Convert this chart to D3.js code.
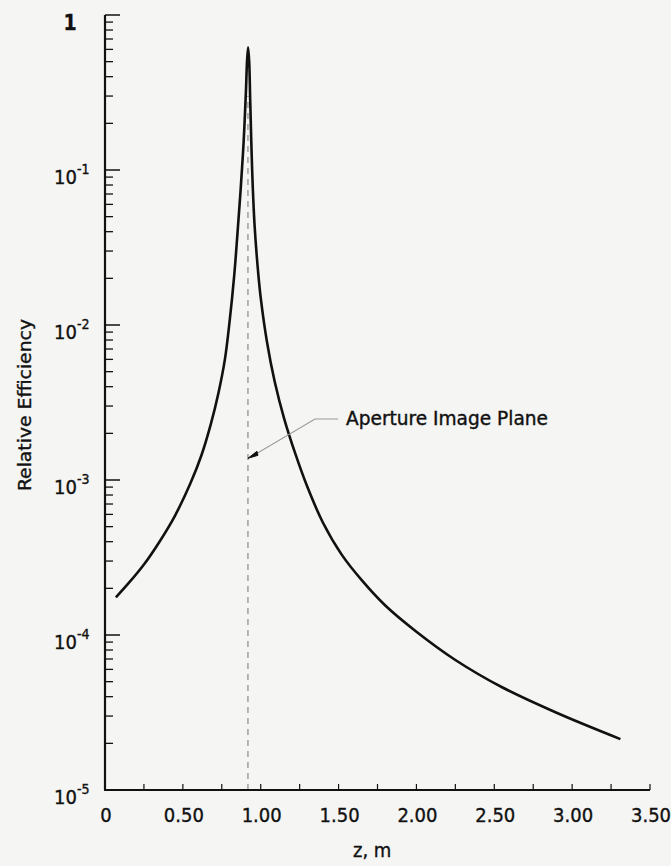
<!DOCTYPE html>
<html><head><meta charset="utf-8">
<script src="https://cdn.jsdelivr.net/npm/d3@7"></script>
<style>
html,body{margin:0;padding:0;background:#f5f5f3;}
svg{display:block;}
text{font-family:"DejaVu Sans Condensed","DejaVu Sans",sans-serif;fill:#111;stroke:#111;stroke-width:0.35;}
</style></head>
<body><svg id="c" width="671" height="866"></svg>
<script>
// Data
const zValues = [0.07,0.15,0.25,0.35,0.45,0.55,0.62,0.68,0.73,0.77,0.80,0.83,0.85,0.87,0.89,0.905,0.912,0.919,0.926,0.933,0.945,0.96,0.98,1.00,1.04,1.09,1.15,1.22,1.30,1.40,1.52,1.65,1.80,2.00,2.25,2.55,2.90,3.31];
const efficiency = [1.75e-4,2.15e-4,2.85e-4,4.0e-4,5.9e-4,9.6e-4,1.45e-3,2.3e-3,3.7e-3,6.0e-3,1.05e-2,2.1e-2,3.8e-2,7.2e-2,0.15,0.32,0.5,0.62,0.5,0.27,0.10,0.045,0.024,0.015,7.8e-3,4.3e-3,2.5e-3,1.5e-3,9.0e-4,5.3e-4,3.3e-4,2.25e-4,1.55e-4,1.05e-4,6.9e-5,4.6e-5,3.15e-5,2.13e-5];
const xTickLabels = ["0","0.50","1.00","1.50","2.00","2.50","3.00","3.50"];
const xTickValues = [0,0.5,1.0,1.5,2.0,2.5,3.0,3.5];
const yDecades = [1,1e-1,1e-2,1e-3,1e-4,1e-5];
const yDecadeExps = ["","-1","-2","-3","-4","-5"];
const imagePlaneZ = 0.918;
const imagePlaneTop = 0.3;
const annotationText = "Aperture Image Plane";
const annotationValue = 1.38e-3;

const svg = d3.select("#c");
const x = d3.scaleLinear().domain([0,3.5]).range([105,650]);
const y = d3.scaleLog().domain([1e-5,1]).range([790,15]);

// dashed image plane line
svg.append("line")
  .attr("x1",x(imagePlaneZ)).attr("x2",x(imagePlaneZ))
  .attr("y1",y(1e-5)).attr("y2",y(imagePlaneTop))
  .attr("stroke","#8a8a8a").attr("stroke-width",1.2).attr("stroke-dasharray","6,5");

// y axis minor ticks
const minor=[];
for(let e=-5;e<0;e++){for(let k=2;k<=9;k++){minor.push(k*Math.pow(10,e));}}
svg.append("g").selectAll("line").data(minor).join("line")
  .attr("x1",x(0)).attr("x2",x(0)+8)
  .attr("y1",d=>y(d)).attr("y2",d=>y(d))
  .attr("stroke","#111").attr("stroke-width",1.3);
svg.append("g").selectAll("line").data(yDecades).join("line")
  .attr("x1",x(0)).attr("x2",x(0)+15)
  .attr("y1",d=>y(d)).attr("y2",d=>y(d))
  .attr("stroke","#111").attr("stroke-width",1.5);

// x ticks every 0.25
const xt = d3.range(0.25,3.51,0.25);
svg.append("g").selectAll("line").data(xt).join("line")
  .attr("x1",d=>x(d)).attr("x2",d=>x(d))
  .attr("y1",y(1e-5)).attr("y2",y(1e-5)-6)
  .attr("stroke","#111").attr("stroke-width",1.2);

// axis lines
svg.append("line").attr("x1",x(0)).attr("x2",x(0)).attr("y1",y(1)).attr("y2",y(1e-5))
  .attr("stroke","#111").attr("stroke-width",2.2);
svg.append("line").attr("x1",x(0)-1).attr("x2",x(3.5)).attr("y1",y(1e-5)).attr("y2",y(1e-5))
  .attr("stroke","#111").attr("stroke-width",2);

// x labels
svg.append("g").selectAll("text").data(xTickValues).join("text")
  .attr("x",d=>x(d)+1).attr("y",822).attr("text-anchor","middle")
  .attr("font-size",20).text((d,i)=>xTickLabels[i]);
svg.append("text").attr("x",353).attr("y",857)
  .attr("font-size",20).text("z,  m");

// y labels
yDecades.forEach((d,i)=>{
  if(yDecadeExps[i]===""){
    svg.append("text").attr("x",70).attr("y",y(d)+15).attr("text-anchor","middle")
      .attr("font-size",21).attr("font-weight","bold").text("1");
  } else {
    const t=svg.append("text").attr("x",54).attr("y",y(d)+14).attr("font-size",20);
    t.append("tspan").text("10");
    t.append("tspan").attr("dy",-10).attr("font-size",14).text(yDecadeExps[i]);
  }
});
svg.append("text").attr("transform","translate(31,405) rotate(-90)")
  .attr("text-anchor","middle").attr("font-size",18)
  .attr("textLength",172).attr("lengthAdjust","spacingAndGlyphs").text("Relative Efficiency");

// curve
const line = d3.line().x((d,i)=>x(zValues[i])).y(d=>y(d)).curve(d3.curveCatmullRom.alpha(0.5));
svg.append("path").datum(efficiency).attr("d",line)
  .attr("fill","none").attr("stroke","#111").attr("stroke-width",2.6).attr("stroke-linejoin","round");

// annotation
const ax = x(imagePlaneZ), ay = y(annotationValue);
svg.append("polyline")
  .attr("points",[[ax+4,ay-2],[315,419],[338,419]].map(p=>p.join(",")).join(" "))
  .attr("fill","none").attr("stroke","#999").attr("stroke-width",1.2);
svg.append("path")
  .attr("d",`M${ax},${ay} L${ax+9},${ay-7} L${ax+10},${ay-3} Z`)
  .attr("fill","#111").attr("stroke","#111").attr("stroke-width",1);
svg.append("text").attr("x",346).attr("y",425).attr("font-size",19)
  .attr("textLength",202).attr("lengthAdjust","spacingAndGlyphs").text(annotationText);
</script></body></html>
